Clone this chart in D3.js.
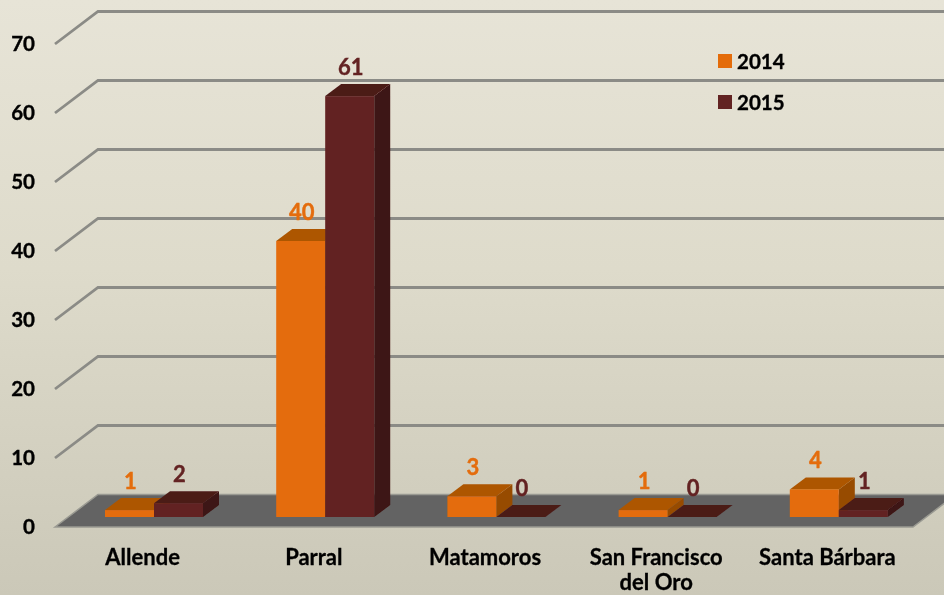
<!DOCTYPE html>
<html><head><meta charset="utf-8">
<script src="https://cdn.jsdelivr.net/npm/d3@7"></script>
<style>html,body{margin:0;padding:0;overflow:hidden}svg{display:block}text{font-family:Lato,sans-serif;font-weight:700;paint-order:stroke}</style>
</head><body><svg id="c" width="944" height="595"></svg>
<script>
const categories = ["Allende","Parral","Matamoros","San Francisco del Oro","Santa Bárbara"];
const series2014 = [1,40,3,1,4];
const series2015 = [2,61,0,0,1];
const seriesNames = ["2014","2015"];
const yTicks = [0,10,20,30,40,50,60,70];

const W=944,H=595;
const svg=d3.select("#c");
const defs=svg.append("defs");
const bg=defs.append("linearGradient").attr("id","bg").attr("x1",0).attr("y1",0).attr("x2",0).attr("y2",1);
[[0,"#e7e4d7"],[.45,"#dedbcb"],[1,"#cbc8b8"]].forEach(d=>bg.append("stop").attr("offset",d[0]).attr("stop-color",d[1]));
const blur=defs.append("filter").attr("id","soft").attr("x","-5%").attr("y","-5%").attr("width","110%").attr("height","110%");
blur.append("feGaussianBlur").attr("stdDeviation",0.45);
const tblur=defs.append("filter").attr("id","tsoft").attr("x","-10%").attr("y","-10%").attr("width","120%").attr("height","120%");
tblur.append("feGaussianBlur").attr("stdDeviation",0.3);
svg.append("rect").attr("width",W).attr("height",H).attr("fill","url(#bg)");

const y=d3.scaleLinear().domain([0,70]).range([527,44]);
const x0=d3.scaleBand().domain(categories).range([57,913]);
const x1=d3.scaleBand().domain(seriesNames).range([0,98]);
const backDx=43,backDy=-32.5,barDx=16,barDy=-12,floorDy=-10;
const colors={ "2014":{front:"#e46c0a",top:"#ad5605",side:"#974b05",label:"#e46c0a"},
               "2015":{front:"#622322",top:"#4c1a19",side:"#3d1312",label:"#632423"} };

// floor
const x0L=55,x0R=913;
svg.append("path").attr("d",`M${x0L},${y(0)}L${x0L+backDx},${y(0)+backDy}L${x0R+backDx},${y(0)+backDy}L${x0R},${y(0)}Z`)
  .attr("fill","#636363").attr("stroke","#9a9a92").attr("stroke-width",1.5).attr("filter","url(#soft)");

// gridlines
svg.append("g").selectAll("path").data(yTicks.slice(1)).join("path")
  .attr("d",d=>`M${x0L},${y(d)}L${x0L+backDx},${y(d)+backDy}L${W+2},${y(d)+backDy}`)
  .attr("fill","none").attr("stroke","#8b8b86").attr("stroke-width",2.8).attr("filter","url(#soft)");

// y axis
const ya=svg.append("g").attr("transform","translate(35,0)").attr("filter","url(#tsoft)")
  .call(d3.axisLeft(y).tickValues(yTicks).tickSize(0).tickPadding(0));
ya.select(".domain").remove();
ya.selectAll("text").attr("font-size",20.5).attr("fill","#000").attr("stroke","#000").attr("stroke-width",0.35)
  .attr("font-family","Lato").attr("font-weight",700);

// bars
const rows=[];
categories.forEach((c,i)=>{
  rows.push({c,s:"2014",v:series2014[i]});
  rows.push({c,s:"2015",v:series2015[i]});
});
const baseY=y(0)+floorDy, h=v=>y(0)-y(v);
const bx=d=>x0(d.c)+x0.bandwidth()/2-49+11.4+x1(d.s);
const bw=x1.bandwidth();
const bars=svg.append("g").attr("filter","url(#soft)").selectAll("g").data(rows).join("g");
bars.append("path").attr("fill",d=>colors[d.s].side)
  .attr("d",d=>{const X=bx(d)+bw,T=baseY-h(d.v);return `M${X},${baseY}L${X+barDx},${baseY+barDy}L${X+barDx},${T+barDy}L${X},${T}Z`;});
bars.append("path").attr("fill",d=>colors[d.s].top)
  .attr("d",d=>{const X=bx(d),T=baseY-h(d.v);return `M${X},${T}L${X+barDx},${T+barDy}L${X+bw+barDx},${T+barDy}L${X+bw},${T}Z`;});
bars.append("rect").attr("fill",d=>colors[d.s].front)
  .attr("x",bx).attr("y",d=>baseY-h(d.v)).attr("width",bw).attr("height",d=>h(d.v));

// value labels
svg.append("g").attr("filter","url(#tsoft)").selectAll("text").data(rows).join("text")
  .attr("x",d=>bx(d)+bw/2+1).attr("y",d=>baseY-h(d.v)-21)
  .attr("text-anchor","middle").attr("font-size",22).attr("fill",d=>colors[d.s].label)
  .attr("stroke",d=>colors[d.s].label).attr("stroke-width",0.4).text(d=>d.v);

// category axis
const xa=svg.append("g").attr("transform","translate(0,565)").attr("filter","url(#tsoft)")
  .call(d3.axisBottom(x0).tickSize(0).tickPadding(0).tickFormat(""));
xa.select(".domain").remove();
xa.selectAll(".tick text").each(function(d){
  const t=d3.select(this).attr("y",0).attr("dy",0).attr("font-size",22).attr("fill","#000")
    .attr("stroke","#000").attr("stroke-width",0.3).attr("font-family","Lato").attr("font-weight",700);
  const lines=d==="San Francisco del Oro"?["San Francisco","del Oro"]:[d];
  t.selectAll("tspan").data(lines).join("tspan").attr("x",0).attr("y",(l,i)=>i*25).text(l=>l);
});

// legend
const lg=svg.append("g").selectAll("g").data(seriesNames).join("g")
  .attr("transform",(d,i)=>`translate(718,${54+i*41})`);
lg.append("rect").attr("width",14).attr("height",14).attr("fill",d=>colors[d].front);
lg.append("text").attr("x",19).attr("y",14.5).attr("font-size",20.5).attr("fill","#000")
  .attr("stroke","#000").attr("stroke-width",0.35).attr("filter","url(#tsoft)").text(d=>d);
</script></body></html>
